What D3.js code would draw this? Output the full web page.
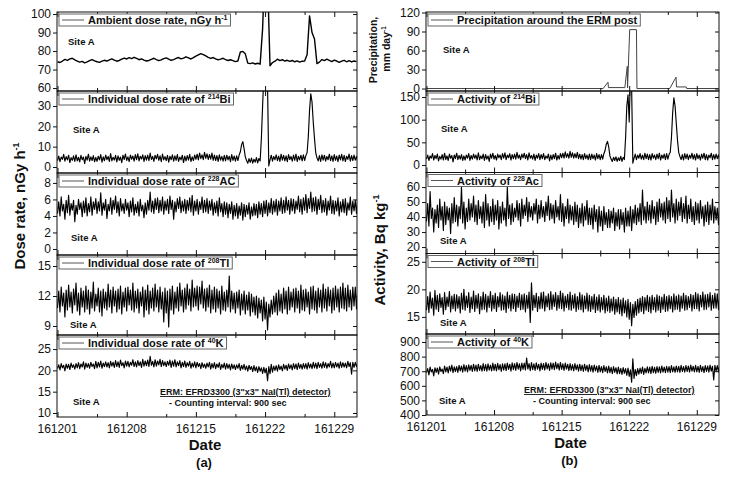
<!DOCTYPE html>
<html><head><meta charset="utf-8">
<script src="https://cdn.jsdelivr.net/npm/d3@7"></script>
<style>
body{margin:0;background:#fff}
text{font-family:Arial,"Liberation Sans",sans-serif;fill:#111}
</style>
</head><body>
<svg id="c" width="732" height="481"></svg>
<script>
// ---------- time grid: days of December 2016 ----------
const dayStart = 1;
const dayStep = 0.125;      // noisy radionuclide series: 8 readings per day (one row per day)
const ambientStep = 0.25;   // ambient dose rate series
const xTickDays = [1, 8, 15, 22, 29];
const xTickLabels = ["161201", "161208", "161215", "161222", "161229"];
const xMinorDays = [5, 12, 19, 26];

// ---------- (a) dose rates, nGy/h ----------
const ambientDose = [74.2,73.8,74.6,75.5,74.9,75.8,76.1,75.2,74.6,74.0,
74.4,73.6,74.1,74.8,75.4,74.7,74.2,73.9,74.5,75.0,
74.6,75.2,75.8,75.1,74.5,74.9,75.6,76.2,75.7,76.4,
75.9,76.6,76.0,75.3,75.8,75.1,74.6,74.9,75.5,76.1,
75.4,74.8,75.2,75.9,76.3,75.6,75.0,75.4,76.0,76.5,
75.8,76.2,76.9,76.3,75.7,76.4,77.2,77.9,78.6,78.1,
77.4,76.6,76.0,76.5,75.8,75.2,75.6,76.1,75.4,74.9,
75.3,74.8,74.3,74.6,79.5,79.8,78.5,73.5,73.2,73.6,
73.0,73.4,72.9,92.0,130,120,72.0,73.8,74.5,75.6,
74.8,75.3,74.6,75.0,74.4,74.9,74.2,74.7,74.0,74.5,
74.6,78.0,99.0,90.0,86.5,73.2,74.0,75.4,74.8,75.6,
74.9,74.3,75.1,74.6,73.9,74.5,75.0,74.2,74.8,74.1,74.6,74.3];
const bi214Dose = [
3.1,5.4,2.6,4.9,3.8,6.2,2.9,5.1, 3.5,5.8,2.2,4.6,3.3,5.5,2.8,6.0,
3.0,4.8,2.5,5.7,3.6,4.9,1.7,5.2, 3.4,6.3,2.9,5.0,3.2,5.6,2.6,4.7,
2.8,5.3,3.5,6.1,2.4,5.0,3.1,5.9, 3.6,5.2,2.7,6.6,3.0,4.8,3.4,5.7,
2.5,5.5,3.3,4.9,2.1,5.8,3.7,6.4, 3.2,5.0,2.6,5.9,3.8,5.4,2.9,6.1,
3.6,6.5,3.0,5.3,3.9,6.0,2.7,5.6, 3.4,5.9,3.1,6.8,3.7,5.2,2.8,5.8,
4.0,6.2,3.3,5.5,2.6,6.4,3.5,5.1, 3.1,5.7,2.4,5.3,3.6,6.0,2.9,5.5,
3.3,6.1,2.8,4.9,3.5,5.8,2.2,5.4, 3.0,5.6,3.4,6.2,2.7,5.0,3.2,5.9,
3.8,6.3,3.5,6.9,4.1,6.0,3.6,7.2, 4.2,6.5,3.7,6.1,3.9,6.8,3.3,5.9,
3.2,5.6,2.8,6.0,3.4,5.2,2.9,5.7, 3.0,5.8,3.5,5.3,2.6,6.1,3.3,5.4,
2.9,5.5,3.2,5.9,7.5,11.0,12.5,9.0, 5.0,3.2,1.8,4.1,2.3,4.4,1.9,3.8,
2.4,4.6,2.0,4.2,3.0,14.0,30.0,45.0, 48,50,40,0.5,3.5,5.8,2.9,5.2,
3.6,6.0,3.1,5.4,2.8,6.3,3.4,5.7, 3.0,5.5,2.6,6.1,3.7,5.2,2.9,5.9,
3.3,6.4,2.7,5.3,3.5,5.8,3.0,6.0, 3.2,5.6,7.0,15.0,28.0,36.0,32.0,22.0,
14.0,7.0,4.5,3.0,5.6,2.7,6.0,3.4, 5.8,2.9,5.2,3.6,6.3,3.1,5.5,2.8,
6.1,3.3,5.4,2.6,5.9,3.5,6.2,3.0, 5.7,2.7,5.3,3.8,6.4,2.9,5.6,3.2,
5.9,3.4,5.2,2.8,6.0,3.1,5.5,3.6];
const ac228Dose = [
4.3,5.7,4.0,6.3,4.6,5.4,3.6,5.9, 4.4,6.5,4.1,5.5,4.7,5.9,3.3,5.3,
4.2,6.0,4.8,5.6,3.9,5.8,4.4,6.2, 4.0,5.5,4.5,6.3,4.1,5.7,4.8,6.1,
4.3,5.7,4.6,6.8,4.1,5.6,4.7,6.0, 3.7,5.4,4.6,6.2,4.2,5.9,4.8,6.4,
4.4,5.7,4.0,6.1,4.6,5.5,4.3,6.0, 4.7,5.6,3.9,5.8,4.5,6.2,4.1,5.4,
4.4,5.7,4.0,6.0,4.6,5.3,3.8,5.6, 4.2,5.9,4.7,6.9,4.5,5.8,4.3,6.1,
4.8,6.2,4.4,5.9,4.6,6.3,4.2,5.8, 4.7,6.0,4.3,6.4,4.8,5.9,3.6,5.7,
4.5,6.1,4.9,6.3,4.4,5.8,4.6,6.0, 4.3,5.9,4.7,6.2,4.5,6.5,4.1,5.8,
4.6,6.0,4.2,5.7,4.8,6.3,4.4,5.9, 4.5,6.1,4.3,5.8,4.7,6.0,4.1,5.6,
4.4,5.8,4.0,6.2,4.5,5.5,3.9,5.7, 4.2,5.6,3.8,5.4,4.3,5.7,3.6,5.3,
4.0,5.5,3.7,5.2,4.1,5.6,3.5,5.4, 3.9,5.3,4.2,5.6,3.6,5.1,4.0,5.5,
4.1,5.4,3.8,5.7,4.2,5.5,3.9,5.8, 4.3,5.9,4.0,5.6,4.4,6.1,4.2,5.8,
4.5,6.0,4.1,5.8,4.6,6.2,4.3,5.9, 4.4,6.3,4.7,5.9,4.2,6.1,4.6,6.0,
4.3,5.8,4.8,6.4,4.5,6.0,4.2,6.2, 4.7,6.6,4.4,6.1,4.9,6.9,4.5,6.2,
4.6,6.3,4.2,6.0,4.8,6.5,4.4,5.9, 4.5,6.1,4.1,5.8,4.7,6.4,4.3,5.9,
4.2,5.8,4.6,6.2,4.0,5.7,4.5,6.0, 4.4,6.1,4.1,5.6,4.7,6.3,4.2,5.8,
4.6,5.9,4.3,6.0,4.5,5.7,4.2,5.6];
const tl208Dose = [
10.8,12.5,10.4,12.9,11.0,12.3,9.9,12.6, 10.6,13.1,10.9,12.4,10.3,12.7,11.1,13.3,
10.5,12.3,10.1,12.8,10.9,12.5,10.4,13.0, 10.7,12.6,10.2,12.4,10.8,13.4,10.5,12.2,
11.0,12.8,10.4,12.5,10.0,12.7,10.8,12.4, 10.6,13.2,10.9,12.6,10.3,12.9,11.0,12.5,
10.4,12.7,10.7,13.0,10.2,12.4,10.9,12.8, 10.5,12.9,11.1,12.6,10.6,13.3,10.4,12.5,
10.8,12.7,10.3,12.4,11.0,12.9,9.9,12.6, 10.6,13.1,10.2,12.5,10.8,12.8,10.5,13.2,
10.9,12.6,10.4,12.9,10.7,12.4,9.4,12.8, 10.3,12.5,8.9,12.7,10.6,13.0,10.2,12.4,
10.8,12.9,10.5,13.3,11.0,12.6,10.4,12.8, 10.7,13.2,11.1,12.7,10.5,13.6,10.9,12.8,
11.0,13.0,10.6,12.9,11.2,13.5,10.8,12.7, 10.5,12.8,10.9,13.1,10.3,12.6,10.7,12.9,
10.4,12.7,10.8,12.5,10.2,13.0,10.6,12.4, 10.5,12.6,10.9,14.0,10.4,12.5,10.7,12.3,
10.3,12.4,10.8,12.6,10.1,12.2,10.6,12.5, 10.2,12.1,10.6,12.4,10.0,12.2,10.4,11.9,
10.1,12.0,9.8,11.8,10.3,11.6,9.5,11.9, 9.7,11.4,8.6,11.2,9.9,11.6,10.2,12.0,
10.4,12.3,10.1,12.6,10.5,12.2,10.3,12.8, 10.7,12.5,10.2,12.9,10.6,12.4,10.9,12.7,
10.4,12.8,10.8,12.5,10.3,13.1,10.6,12.6, 10.5,12.7,10.9,12.4,10.2,12.9,10.7,13.0,
10.6,12.5,10.3,12.8,10.9,12.6,10.4,13.2, 10.8,12.7,10.5,12.9,11.0,12.6,10.3,12.8,
10.6,13.0,10.9,12.7,10.4,12.9,10.8,13.3, 10.7,12.8,10.5,13.1,10.9,12.6,10.6,12.9,
11.0,12.9,10.7,12.6,10.8,13.0,10.6,12.7];
const k40Dose = [
20.4,21.3,20.1,21.6,20.6,21.2,19.9,21.5, 20.5,21.4,20.2,21.7,20.7,21.3,20.3,21.6,
20.6,21.8,20.4,21.5,20.8,22.0,20.3,21.7, 20.7,21.6,20.5,21.9,20.9,21.5,20.4,22.1,
20.6,21.9,20.8,22.2,20.5,21.7,20.9,22.0, 20.8,21.8,20.6,22.1,21.0,21.9,20.7,22.3,
20.9,22.0,20.7,22.4,21.1,21.8,20.6,22.2, 21.0,22.1,20.8,21.9,21.2,22.5,20.9,22.0,
20.8,22.3,21.1,22.0,20.7,22.6,21.0,22.2, 21.1,22.4,20.9,23.3,21.2,22.1,20.8,22.5,
21.0,22.2,21.3,22.6,20.9,22.3,21.1,22.0, 20.9,22.1,21.2,22.4,20.7,22.2,21.0,22.5,
20.8,22.0,21.1,22.3,20.6,21.9,20.9,22.2, 20.7,21.8,21.0,22.1,20.5,21.7,20.8,22.0,
20.6,21.9,20.9,21.6,20.4,21.8,20.7,21.5, 20.5,21.7,20.8,21.9,20.3,21.6,20.6,21.8,
20.4,21.5,20.7,21.8,20.2,21.4,20.6,21.7, 20.3,21.6,20.5,21.4,20.1,21.5,20.4,21.3,
20.2,21.3,20.5,21.6,20.0,21.2,20.3,21.4, 20.1,21.0,19.8,21.2,20.2,20.9,19.7,21.1,
19.9,20.8,19.5,20.9,19.8,20.6,19.3,20.7, 19.4,20.5,17.6,20.9,19.2,21.4,19.6,21.0,
20.0,21.1,19.8,21.3,20.2,21.0,19.9,21.4, 20.3,21.2,20.0,21.5,20.4,21.3,20.1,21.6,
20.4,21.5,20.2,21.7,20.5,21.4,20.3,21.6, 20.5,21.6,20.3,21.8,20.6,21.5,20.4,21.9,
20.6,21.7,20.4,21.9,20.7,21.6,20.5,22.0, 20.7,21.8,20.5,21.6,20.8,22.1,20.6,21.7,
20.6,21.9,20.8,21.7,20.5,22.0,20.7,21.8, 20.8,21.7,20.6,22.1,20.9,21.8,19.1,21.9,
20.7,21.9,20.9,21.6,20.6,22.0,20.8,21.7];

// ---------- (b) precipitation (mm/day) and activities (Bq/kg) ----------
const precipDays = [1, 19.3, 19.8, 19.85, 21.55, 21.8, 21.83, 22.05, 22.75, 22.8, 26.2, 26.85, 26.9, 27.9, 27.95, 31.25];
const precipVals = [0, 0, 10, 1.5, 1.5, 35, 1, 93, 93, 0, 0, 18, 2.5, 2.5, 0, 0];
const bi214Act = [
13,22,10,20,15,25,11,21, 14,24,9,19,13,23,11,26,
12,20,10,24,15,21,7,22, 14,26,12,21,13,23,10,20,
11,22,15,25,10,21,13,24, 15,22,11,27,12,20,14,24,
10,23,13,20,8,24,15,26, 13,21,11,24,16,22,12,25,
15,27,12,22,16,25,11,23, 14,24,13,28,15,22,12,24,
16,26,14,23,11,27,15,21, 13,24,10,22,15,25,12,23,
14,25,12,20,15,24,9,22, 12,23,14,26,11,21,13,25,
16,26,15,29,17,25,15,30, 17,27,15,25,16,28,14,24,
13,23,12,25,14,22,12,24, 12,24,14,22,11,25,14,23,
12,23,13,25,32,46,52,40, 20,13,8,17,10,18,8,16,
10,19,8,17,12,60,130,155, 95,200,170,4,15,24,12,22,
15,25,13,22,12,26,14,24, 12,23,11,25,15,22,12,24,
14,26,11,22,15,24,12,25, 13,23,28,60,115,148,130,92,
55,28,19,12,23,11,25,14, 24,12,22,15,26,13,23,11,
25,14,22,11,24,15,26,12, 23,11,22,16,26,12,23,13,
24,14,22,12,25,13,23,15];
const ac228Act = [
37,49,34,57,39,46,30,45, 36,48,33,52,38,47,31,50,
35,47,38,46,29,49,36,53, 37,48,34,47,39,60,36,50,
32,46,37,52,38,49,40,54, 37,48,35,51,39,47,36,50,
33,55,38,49,34,47,37,52, 35,48,38,51,32,47,36,50,
38,46,34,60,39,48,35,49, 37,46,40,51,38,49,34,52,
39,48,41,53,37,50,40,47, 38,49,42,52,36,48,39,51,
40,47,37,50,41,54,38,49, 39,48,36,51,40,47,38,55,
37,49,34,47,39,52,36,48, 38,47,35,50,37,48,33,46,
36,49,34,47,38,51,35,46, 35,46,32,48,37,45,30,47,
34,44,31,47,35,43,33,45, 33,44,36,46,31,43,34,45,
32,45,35,43,30,46,34,44, 34,47,31,45,36,48,35,46,
37,49,35,58,38,47,36,50, 38,48,36,51,39,47,35,50,
37,52,40,49,38,50,36,53, 39,51,37,58,40,49,36,52,
38,50,41,53,37,49,39,54, 36,48,39,52,37,47,35,50,
38,49,36,51,39,47,34,48, 37,50,35,48,38,52,36,47,
38,46,35,49,37,47,36,45];
const tl208Act = [
16.2,18.7,15.8,19.5,16.6,18.4,15.3,19.8, 16.4,18.9,16.0,19.2,16.7,18.5,15.5,19.4,
16.3,18.6,16.9,19.6,15.9,18.8,16.5,19.1, 16.1,19.0,16.6,18.7,15.7,19.3,16.4,20.0,
16.2,18.8,16.7,19.4,15.8,18.6,16.5,19.7, 16.0,18.9,16.6,19.2,15.6,18.7,16.3,19.5,
16.4,19.1,15.9,18.8,16.7,19.6,16.1,18.9, 16.5,19.3,16.0,18.7,16.8,19.4,16.2,19.0,
16.3,18.8,15.8,19.5,16.6,18.9,16.1,19.2, 16.5,19.1,16.0,18.8,16.7,19.3,16.3,19.0,
16.4,19.2,15.9,18.9,16.6,19.5,14.0,21.2, 16.2,18.9,16.7,19.3,16.0,18.7,16.5,19.4,
16.6,19.5,16.1,18.8,16.8,19.2,16.3,19.6, 16.4,19.0,16.9,19.4,16.2,18.9,16.6,19.7,
16.5,19.3,16.1,18.8,16.7,19.1,16.3,19.5, 16.2,18.9,16.6,19.2,16.0,18.7,16.4,19.4,
16.3,19.0,15.9,18.8,16.5,19.3,16.1,18.9, 16.0,18.7,16.4,19.1,15.8,18.6,16.2,19.0,
15.9,18.5,16.3,18.9,15.7,18.4,16.1,18.8, 15.8,18.3,16.1,18.6,15.5,18.2,15.9,18.5,
15.6,18.1,15.2,18.4,15.7,17.9,15.0,18.2, 14.6,17.6,13.4,17.3,14.9,17.8,15.3,18.2,
15.7,18.4,16.0,18.7,15.6,18.5,16.2,18.9, 16.0,18.6,15.7,18.9,16.3,18.5,15.9,19.0,
16.2,18.8,15.8,18.6,16.4,19.1,16.0,18.7, 16.1,18.9,16.5,18.7,15.9,19.2,16.3,18.8,
16.4,19.0,16.0,18.8,16.6,19.3,16.2,18.9, 16.3,18.7,16.7,19.1,16.1,18.9,16.5,19.4,
16.5,19.2,16.1,18.9,16.8,19.5,16.3,19.0, 16.4,19.1,16.8,19.4,16.2,18.9,16.6,19.3,
16.6,19.2,16.3,18.9,16.7,19.5,16.4,19.0];
const k40Act = [
690,718,675,728,695,712,668,724, 692,722,680,730,698,715,684,735,
695,728,688,735,700,742,690,730, 698,732,692,740,702,736,694,745,
700,738,695,744,705,740,698,748, 702,742,698,748,706,738,700,752,
704,745,700,750,708,742,702,755, 706,748,702,754,710,745,698,750,
708,750,704,756,712,748,700,758, 710,752,706,760,714,750,702,756,
712,755,708,790,715,752,704,760, 710,750,705,758,714,748,702,755,
712,752,708,760,716,750,706,758, 714,755,710,762,718,752,708,760,
712,750,706,756,715,748,704,752, 708,746,702,752,710,744,700,748,
704,742,698,748,706,740,696,745, 700,738,694,742,702,735,692,740,
696,732,690,738,698,730,688,735, 690,726,684,732,692,724,682,728,
684,720,678,725,686,718,672,722, 665,710,625,785,650,712,670,718,
680,722,685,728,678,720,688,730, 688,728,684,734,690,726,686,732,
692,730,688,736,694,728,690,734, 694,732,690,738,696,730,692,736,
696,734,692,740,698,732,694,738, 698,736,694,742,700,734,696,740,
696,734,692,740,698,732,690,738, 698,736,694,742,700,734,640,740,
700,738,696,744,702,736,698,742];

// ---------- tick values ----------
const ambientTicks = [60, 70, 80, 90, 100];
const bi214DoseTicks = [0, 10, 20, 30];
const ac228DoseTicks = [0, 2, 4, 6, 8];
const tl208DoseTicks = [9, 12, 15];
const k40DoseTicks = [10, 15, 20, 25];
const precipTicks = [0, 30, 60, 90, 120];
const bi214ActTicks = [0, 50, 100, 150];
const ac228ActTicks = [20, 30, 40, 50, 60];
const tl208ActTicks = [15, 20, 25];
const k40ActTicks = [400, 500, 600, 700, 800, 900];

// ---------- layout ----------
const svg = d3.select("#c");
const xDomain = [0.95, 31.3];
const series = (v, step) => v.map((val, i) => [dayStart + i * step, val]);
const pairs = (ds, vs) => ds.map((d, i) => [d, vs[i]]);

const LEFT = {x0: 57, x1: 357, bounds: [12, 91, 173, 255, 335, 417]};
const RIGHT = {x0: 426, x1: 719, bounds: [12, 91, 172.5, 253.5, 334, 415]};

const leftPanels = [
  {pts: series(ambientDose, ambientStep), domain: [58.4, 101.1], ticks: ambientTicks, leg: ["Ambient dose rate, nGy h", "-1", ""], site: [11, 33], sw: 1.4},
  {pts: series(bi214Dose, dayStep), domain: [-2.95, 37.4], ticks: bi214DoseTicks, leg: ["Individual dose rate of ", "214", "Bi"], site: [16, 42]},
  {pts: series(ac228Dose, dayStep), domain: [-0.73, 9.2], ticks: ac228DoseTicks, leg: ["Individual dose rate of ", "228", "AC"], site: [14, 68]},
  {pts: series(tl208Dose, dayStep), domain: [8.1, 16.1], ticks: tl208DoseTicks, leg: ["Individual dose rate of ", "208", "Tl"], site: [13, 73]},
  {pts: series(k40Dose, dayStep), domain: [9.06, 28.3], ticks: k40DoseTicks, leg: ["Individual dose rate of ", "40", "K"], site: [16, 70]}
];
const rightPanels = [
  {pts: pairs(precipDays, precipVals), domain: [-3.9, 120.8], ticks: precipTicks, leg: ["Precipitation around the ERM post", "", ""], site: [17, 41], color: "#444", sw: 1},
  {pts: series(bi214Act, dayStep), domain: [-16.5, 163.2], ticks: bi214ActTicks, leg: ["Activity of ", "214", "Bi"], site: [15, 41]},
  {pts: series(ac228Act, dayStep), domain: [15.7, 69.7], ticks: ac228ActTicks, leg: ["Activity of ", "228", "Ac"], site: [14, 71.5]},
  {pts: series(tl208Act, dayStep), domain: [11.9, 26.5], ticks: tl208ActTicks, leg: ["Activity of ", "208", "Tl"], site: [14, 72.5]},
  {pts: series(k40Act, dayStep), domain: [400, 955], ticks: k40ActTicks, leg: ["Activity of ", "40", "K"], site: [13, 70]}
];

let clipId = 0;
function drawChart(cfg, panels, letter, ermX) {
  const x = d3.scaleLinear().domain(xDomain).range([cfg.x0, cfg.x1]);
  panels.forEach((p, k) => {
    const top = cfg.bounds[k], bottom = cfg.bounds[k + 1];
    const y = d3.scaleLinear().domain(p.domain).range([bottom, top]);
    const g = svg.append("g");
    const id = "clip" + (clipId++);
    g.append("clipPath").attr("id", id).append("rect")
      .attr("x", cfg.x0).attr("y", top).attr("width", cfg.x1 - cfg.x0).attr("height", bottom - top);
    g.append("path").datum(p.pts)
      .attr("clip-path", `url(#${id})`)
      .attr("fill", "none").attr("stroke", p.color || "#000")
      .attr("stroke-width", p.sw || 1.15).attr("stroke-linejoin", "round")
      .attr("d", d3.line().x(d => x(d[0])).y(d => y(d[1])));
    g.append("rect").attr("x", cfg.x0).attr("y", top).attr("width", cfg.x1 - cfg.x0).attr("height", bottom - top)
      .attr("fill", "none").attr("stroke", "#111").attr("stroke-width", 1);
    const ya = g.append("g").attr("transform", `translate(${cfg.x0},0)`)
      .call(d3.axisLeft(y).tickValues(p.ticks).tickSize(4).tickPadding(2));
    const yb = g.append("g").attr("transform", `translate(${cfg.x1},0)`)
      .call(d3.axisLeft(y).tickValues(p.ticks).tickSize(4).tickFormat(""));
    const xa = g.append("g").attr("transform", `translate(0,${bottom})`)
      .call(d3.axisTop(x).tickValues(xTickDays).tickSize(5).tickFormat(""));
    const xm = g.append("g").attr("transform", `translate(0,${bottom})`)
      .call(d3.axisTop(x).tickValues(xMinorDays).tickSize(3).tickFormat(""));
    const xt = g.append("g").attr("transform", `translate(0,${top})`)
      .call(d3.axisBottom(x).tickValues(xTickDays).tickSize(5).tickFormat(""));
    const xtm = g.append("g").attr("transform", `translate(0,${top})`)
      .call(d3.axisBottom(x).tickValues(xMinorDays).tickSize(3).tickFormat(""));
    [ya, yb, xa, xm, xt, xtm].forEach(a => {
      a.select(".domain").remove();
      a.attr("color", "#111").attr("font-family", null).attr("font-size", null);
      a.selectAll("text").style("font-size", "12px").attr("fill", "#222");
    });
    // legend
    const lx = cfg.x0 + 2, ly = top + 2;
    const lg = g.append("g");
    const box = lg.append("rect").attr("x", lx).attr("y", ly).attr("height", 12)
      .attr("fill", "#fff").attr("stroke", "#666").attr("stroke-width", 1);
    lg.append("line").attr("x1", lx + 3).attr("x2", lx + 25).attr("y1", ly + 6).attr("y2", ly + 6)
      .attr("stroke", "#555").attr("stroke-width", 1);
    const t = lg.append("text").attr("x", lx + 29).attr("y", ly + 10)
      .style("font-size", "11px").style("font-weight", "bold");
    t.append("tspan").text(p.leg[0]);
    if (p.leg[1]) t.append("tspan").attr("dy", -4).style("font-size", "7px").text(p.leg[1]);
    if (p.leg[2]) t.append("tspan").attr("dy", 4).text(p.leg[2]);
    box.attr("width", t.node().getComputedTextLength() + 32);
    g.append("text").attr("x", cfg.x0 + p.site[0]).attr("y", top + p.site[1])
      .style("font-size", "9.5px").style("font-weight", "bold").text("Site A");
  });
  const yb = cfg.bounds[5];
  svg.append("g").selectAll("text").data(xTickDays).join("text")
    .attr("x", d => x(d)).attr("y", yb + 15.5).attr("text-anchor", "middle")
    .style("font-size", "12px").attr("fill", "#222").text((d, i) => xTickLabels[i]);
  const cx = (cfg.x0 + cfg.x1) / 2;
  svg.append("text").attr("x", cx - 2).attr("y", yb + 32.5).attr("text-anchor", "middle")
    .style("font-size", "15px").style("font-weight", "bold").text("Date");
  svg.append("text").attr("x", cx - 3).attr("y", yb + 50).attr("text-anchor", "middle")
    .style("font-size", "13px").style("font-weight", "bold").text(letter);
  svg.append("text").attr("x", ermX).attr("y", yb - 22)
    .style("font-size", "9px").style("font-weight", "bold").style("text-decoration", "underline")
    .text('ERM: EFRD3300 (3"x3" NaI(Tl) detector)');
  svg.append("text").attr("x", ermX + 9).attr("y", yb - 11)
    .style("font-size", "9px").style("font-weight", "bold")
    .text("- Counting interval: 900 sec");
}

drawChart(LEFT, leftPanels, "(a)", 160);
drawChart(RIGHT, rightPanels, "(b)", 524);

function vtitle(xb, yc, size, parts) {
  const t = svg.append("text").attr("transform", `translate(${xb},${yc}) rotate(-90)`)
    .attr("text-anchor", "middle").style("font-size", size + "px").style("font-weight", "bold");
  t.append("tspan").text(parts[0]);
  if (parts[1]) t.append("tspan").attr("dy", -size * 0.4).style("font-size", (size * 0.6) + "px").text(parts[1]);
  return t;
}
vtitle(25, 206, 15, ["Dose rate, nGy h", "-1"]);
vtitle(385, 250, 15, ["Activity, Bq kg", "-1"]);
vtitle(377, 50, 10.5, ["Precipitation,", ""]);
vtitle(390, 49, 10.5, ["mm day", "-1"]);
</script>
</body></html>
